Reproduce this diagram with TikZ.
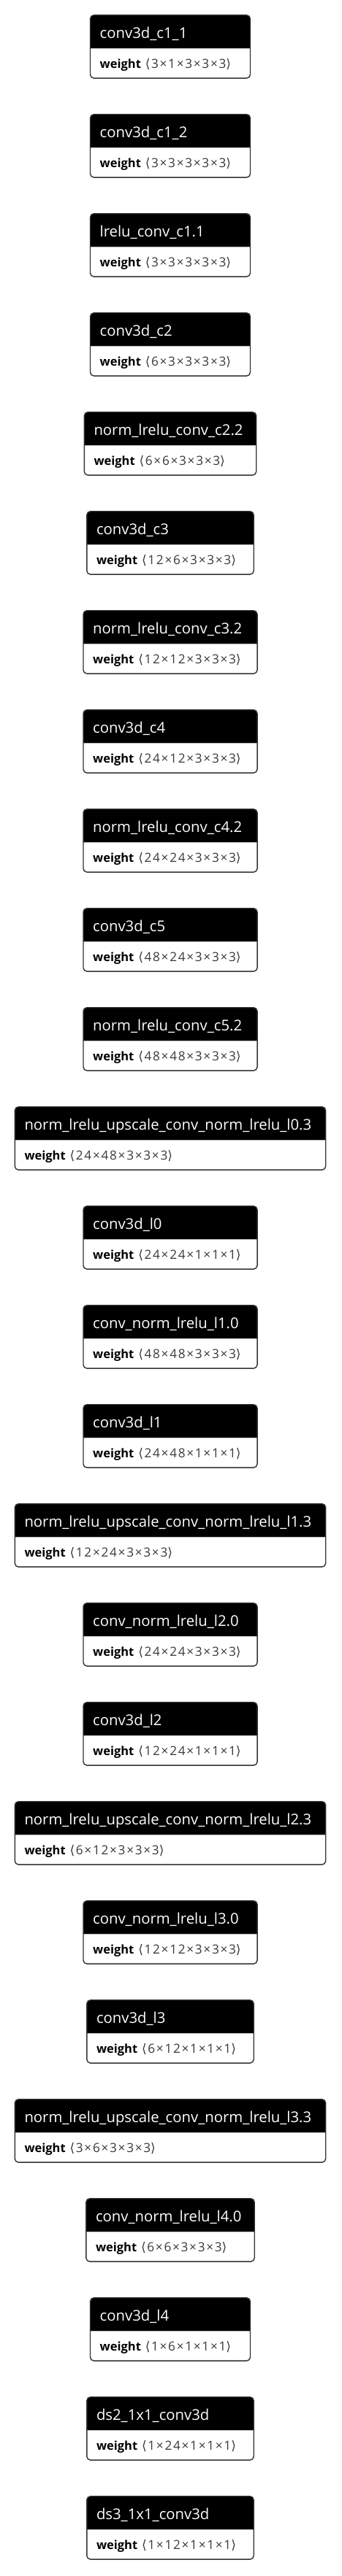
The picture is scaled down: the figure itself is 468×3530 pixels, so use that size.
\documentclass[tikz,border=0pt]{standalone}
\usepackage{fontspec}
\setmainfont{Open Sans}
\newfontfamily\symf{DejaVu Sans}
\newfontfamily\dimf[LetterSpace=10]{Open Sans}
\definecolor{bordc}{HTML}{333333}
\definecolor{dimc}{HTML}{3A3A3A}
\definecolor{sepc}{HTML}{BBBBBB}
\tikzset{
  boxst/.style={inner sep=0pt, minimum height=86pt, anchor=north, fill=white},
  hdrtext/.style={text=white, font=\fontsize{20.3}{24}\selectfont, inner sep=0pt, anchor=base west},
  bodytext/.style={text=black, font=\fontsize{16.5}{20}\selectfont, inner sep=0pt, anchor=base west},
  outline/.style={draw=bordc, line width=1.4pt, rounded corners=5pt},
  sepline/.style={draw=sepc, line width=1.5pt},
}
\newcommand{\nbox}[5]{%
  \node[boxst, minimum width=#2pt] (#1) at (233,{20.7+136*#3}) {};
  \begin{scope}
    \clip[rounded corners=5pt] (#1.north west) rectangle (#1.south east);
    \fill[black] (#1.north west) rectangle ([yshift=-45pt]#1.north east);
  \end{scope}
  \draw[sepline] ([yshift=-46pt]#1.north west) -- ([yshift=-46pt]#1.north east);
  \draw[outline] (#1.north west) rectangle (#1.south east);
  \node[hdrtext] (#1-t) at ([xshift=13pt,yshift=-32pt]#1.north west) {#4};
  \node[bodytext] (#1-w) at ([xshift=13pt,yshift=-72.7pt]#1.north west) {\textbf{weight}\hspace{6pt}{\color{dimc}\fontsize{17.2}{20}\selectfont{\symf ⟨}\hspace{1.5pt}{\dimf #5}{\symf ⟩}}};
}
\begin{document}
\begin{tikzpicture}[x=1pt,y=-1pt]
\fill[white] (0,0) rectangle (468,3530);
\useasboundingbox (0,0) rectangle (468,3530);
\nbox{n0}{218.6}{0}{conv3d\_c1\_1}{3×1×3×3×3}
\nbox{n1}{218.6}{1}{conv3d\_c1\_2}{3×3×3×3×3}
\nbox{n2}{218.6}{2}{lrelu\_conv\_c1.1}{3×3×3×3×3}
\nbox{n3}{218.6}{3}{conv3d\_c2}{6×3×3×3×3}
\nbox{n4}{235}{4}{norm\_lrelu\_conv\_c2.2}{6×6×3×3×3}
\nbox{n5}{228}{5}{conv3d\_c3}{12×6×3×3×3}
\nbox{n6}{237.7}{6}{norm\_lrelu\_conv\_c3.2}{12×12×3×3×3}
\nbox{n7}{237.7}{7}{conv3d\_c4}{24×12×3×3×3}
\nbox{n8}{237.7}{8}{norm\_lrelu\_conv\_c4.2}{24×24×3×3×3}
\nbox{n9}{237.7}{9}{conv3d\_c5}{48×24×3×3×3}
\nbox{n10}{237.7}{10}{norm\_lrelu\_conv\_c5.2}{48×48×3×3×3}
\nbox{n11}{425}{11}{norm\_lrelu\_upscale\_conv\_norm\_lrelu\_l0.3}{24×48×3×3×3}
\nbox{n12}{237.7}{12}{conv3d\_l0}{24×24×1×1×1}
\nbox{n13}{237.7}{13}{conv\_norm\_lrelu\_l1.0}{48×48×3×3×3}
\nbox{n14}{237.7}{14}{conv3d\_l1}{24×48×1×1×1}
\nbox{n15}{425}{15}{norm\_lrelu\_upscale\_conv\_norm\_lrelu\_l1.3}{12×24×3×3×3}
\nbox{n16}{237.7}{16}{conv\_norm\_lrelu\_l2.0}{24×24×3×3×3}
\nbox{n17}{237.7}{17}{conv3d\_l2}{12×24×1×1×1}
\nbox{n18}{425}{18}{norm\_lrelu\_upscale\_conv\_norm\_lrelu\_l2.3}{6×12×3×3×3}
\nbox{n19}{237.7}{19}{conv\_norm\_lrelu\_l3.0}{12×12×3×3×3}
\nbox{n20}{228}{20}{conv3d\_l3}{6×12×1×1×1}
\nbox{n21}{425}{21}{norm\_lrelu\_upscale\_conv\_norm\_lrelu\_l3.3}{3×6×3×3×3}
\nbox{n22}{230}{22}{conv\_norm\_lrelu\_l4.0}{6×6×3×3×3}
\nbox{n23}{218.6}{23}{conv3d\_l4}{1×6×1×1×1}
\nbox{n24}{228}{24}{ds2\_1x1\_conv3d}{1×24×1×1×1}
\nbox{n25}{228}{25}{ds3\_1x1\_conv3d}{1×12×1×1×1}
\end{tikzpicture}
\end{document}
